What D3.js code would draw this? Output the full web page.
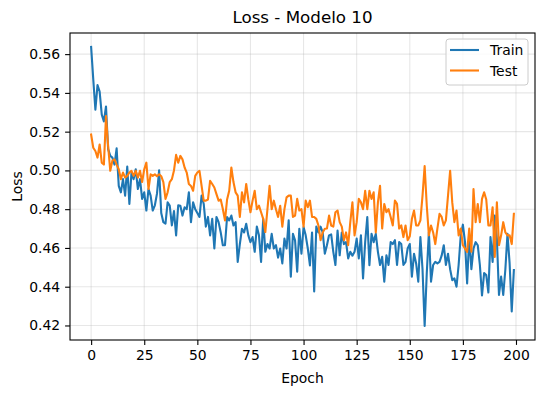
<!DOCTYPE html>
<html>
<head>
<meta charset="utf-8">
<script src="https://cdn.jsdelivr.net/npm/d3@7"></script>
<style>
	body { margin: 0; background: #fff; }
	svg text { font-family: 'DejaVu Sans', sans-serif; fill: #000; }
	.axis path, .axis line { stroke: #000; stroke-width: 1.1; }
	.grid line { stroke: #b0b0b0; stroke-opacity: 0.3; stroke-width: 1.1; }
</style>
</head>
<body>
<svg id="chart" width="545" height="393"></svg>
<script>
var train = [
	0.5637, 0.547, 0.5313, 0.544, 0.5407, 0.5288, 0.5253, 0.533, 0.511, 0.5075,
	0.5066, 0.503, 0.5114, 0.492, 0.4887, 0.4955, 0.487, 0.502, 0.4827, 0.4989,
	0.4955, 0.5006, 0.4904, 0.4955, 0.4853, 0.4887, 0.4793, 0.4904, 0.487, 0.4793,
	0.482, 0.488, 0.500, 0.478, 0.4733, 0.4725, 0.4835, 0.4818, 0.4716, 0.479,
	0.4665, 0.482, 0.4818, 0.4767, 0.481, 0.480, 0.4887, 0.4733, 0.4835, 0.480,
	0.478, 0.476, 0.487, 0.4827, 0.471, 0.476, 0.4665, 0.475, 0.4597, 0.476,
	0.4733, 0.468, 0.4614, 0.4614, 0.476, 0.4742, 0.4767, 0.4716, 0.4733, 0.4528,
	0.462, 0.4699, 0.468, 0.4725, 0.4665, 0.463, 0.4656, 0.458, 0.471, 0.4665,
	0.4528, 0.475, 0.458, 0.462, 0.4597, 0.4673, 0.4597, 0.4614, 0.455, 0.4597,
	0.452, 0.4648, 0.4597, 0.4742, 0.4452, 0.4673, 0.4639, 0.4478, 0.4699, 0.457,
	0.4708, 0.4665, 0.4597, 0.451, 0.468, 0.4375, 0.471, 0.468, 0.471, 0.468,
	0.457, 0.4614, 0.4665, 0.467, 0.458, 0.4512, 0.469, 0.4562, 0.468, 0.462,
	0.463, 0.4546, 0.458, 0.456, 0.458, 0.4648, 0.4546, 0.4665, 0.4443, 0.463,
	0.4759, 0.4511, 0.4673, 0.463, 0.4673, 0.458, 0.4512, 0.4554, 0.4426, 0.4562,
	0.4512, 0.463, 0.462, 0.464, 0.4512, 0.463, 0.462, 0.4512, 0.4528, 0.4597,
	0.462, 0.4452, 0.457, 0.452, 0.4426, 0.4656, 0.449, 0.4197, 0.447, 0.4682,
	0.4426, 0.4512, 0.4528, 0.452, 0.4528, 0.456, 0.4614, 0.4512, 0.457, 0.449,
	0.4434, 0.4443, 0.44, 0.4512, 0.4665, 0.472, 0.463, 0.4417, 0.4665, 0.449,
	0.4597, 0.463, 0.4614, 0.4512, 0.4355, 0.447, 0.446, 0.437, 0.4656, 0.4528,
	0.4767, 0.4648, 0.4358, 0.4452, 0.4358, 0.449, 0.4673, 0.452, 0.4272, 0.4486
];
var test = [
	0.5185, 0.5117, 0.510, 0.5066, 0.5134, 0.504, 0.503, 0.528, 0.5126, 0.4998,
	0.505, 0.5057, 0.503, 0.5006, 0.4955, 0.4989, 0.4963, 0.4972, 0.4989, 0.4998,
	0.4972, 0.4998, 0.4963, 0.4998, 0.494, 0.5006, 0.504, 0.4904, 0.498, 0.4972,
	0.498, 0.497, 0.498, 0.497, 0.494, 0.4853, 0.4887, 0.494, 0.4955, 0.500,
	0.508, 0.504, 0.5075, 0.5057, 0.5015, 0.4989, 0.493, 0.492, 0.4895, 0.4972,
	0.4989, 0.4998, 0.492, 0.4844, 0.4844, 0.485, 0.4946, 0.493, 0.4912, 0.4878,
	0.4844, 0.485, 0.4801, 0.4742, 0.485, 0.4895, 0.5015, 0.494, 0.4887, 0.487,
	0.476, 0.4887, 0.4835, 0.493, 0.485, 0.4784, 0.4844, 0.4895, 0.48, 0.4818,
	0.4784, 0.475, 0.4682, 0.48, 0.4921, 0.48, 0.4844, 0.48, 0.476, 0.4818,
	0.471, 0.48, 0.4861, 0.487, 0.487, 0.476, 0.4767, 0.4853, 0.4793, 0.48,
	0.471, 0.4844, 0.481, 0.4844, 0.476, 0.476, 0.475, 0.4716, 0.464, 0.468,
	0.4699, 0.47, 0.4767, 0.4716, 0.471, 0.4784, 0.4793, 0.4733, 0.471, 0.464,
	0.468, 0.4614, 0.4733, 0.4835, 0.4665, 0.4733, 0.4853, 0.4835, 0.48, 0.4895,
	0.48, 0.4895, 0.4853, 0.4887, 0.468, 0.4835, 0.4921, 0.47, 0.4827, 0.4784,
	0.48, 0.476, 0.4716, 0.4844, 0.4827, 0.47, 0.4716, 0.4656, 0.4716, 0.464,
	0.466, 0.475, 0.4793, 0.4716, 0.4716, 0.4742, 0.487, 0.5023, 0.4818, 0.4665,
	0.4716, 0.468, 0.462, 0.47, 0.4776, 0.476, 0.4716, 0.4742, 0.487, 0.4998,
	0.4835, 0.4733, 0.4793, 0.4665, 0.470, 0.4614, 0.4597, 0.458, 0.47, 0.458,
	0.4904, 0.4733, 0.4827, 0.4733, 0.4853, 0.4887, 0.485, 0.4716, 0.4716, 0.481,
	0.4554, 0.4835, 0.4614, 0.4665, 0.4733, 0.468, 0.4665, 0.4665, 0.462, 0.4776
];
var xTicks = [0, 25, 50, 75, 100, 125, 150, 175, 200];
var yTicks = [0.42, 0.44, 0.46, 0.48, 0.50, 0.52, 0.54, 0.56];
var seriesNames = ['Train', 'Test'];
var seriesColors = ['#1f77b4', '#ff7f0e'];

var svg = d3.select('#chart'),
	margin = { top: 33, right: 10, bottom: 53, left: 70 },
	width = 545 - margin.left - margin.right,
	height = 393 - margin.top - margin.bottom;

var n = train.length;
var pad = (n - 1) * 0.05;
var x = d3.scaleLinear().domain([ -pad, n - 1 + pad ]).range([ 0, width ]);

var all = train.concat(test);
var lo = d3.min(all), hi = d3.max(all);
var yPad = (hi - lo) * 0.05;
var y = d3.scaleLinear().domain([ lo - yPad, hi + yPad ]).range([ height, 0 ]);

var g = svg.append('g').attr('transform', 'translate(' + margin.left + ',' + margin.top + ')');

// grid
g.append('g').attr('class', 'grid')
	.selectAll('line.gx').data(xTicks).enter().append('line')
	.attr('x1', function(d) { return x(d); }).attr('x2', function(d) { return x(d); })
	.attr('y1', 0).attr('y2', height);
g.append('g').attr('class', 'grid')
	.selectAll('line.gy').data(yTicks).enter().append('line')
	.attr('y1', function(d) { return y(d); }).attr('y2', function(d) { return y(d); })
	.attr('x1', 0).attr('x2', width);

// lines
var line = d3.line()
	.x(function(d, i) { return x(i); })
	.y(function(d) { return y(d); });

[train, test].forEach(function(s, k) {
	g.append('path')
		.datum(s)
		.attr('fill', 'none')
		.attr('stroke', seriesColors[k])
		.attr('stroke-width', 2.1)
		.attr('stroke-linejoin', 'round')
		.attr('stroke-linecap', 'square')
		.attr('d', line);
});

// axes
var xAxis = g.append('g').attr('class', 'axis').attr('transform', 'translate(0,' + height + ')')
	.call(d3.axisBottom(x).tickValues(xTicks).tickSize(4.9).tickPadding(4.9).tickSizeOuter(0)
		.tickFormat(d3.format('d')));
var yAxis = g.append('g').attr('class', 'axis')
	.call(d3.axisLeft(y).tickValues(yTicks).tickSize(4.9).tickPadding(4.9).tickSizeOuter(0)
		.tickFormat(d3.format('.2f')));
g.selectAll('.axis text').style('font-size', '13.9px').style('font-family', 'DejaVu Sans');
g.selectAll('.axis .domain').remove();

// frame
g.append('rect').attr('width', width).attr('height', height)
	.attr('fill', 'none').attr('stroke', '#000').attr('stroke-width', 1.1);

// labels
svg.append('text').attr('x', margin.left + width / 2).attr('y', 23)
	.attr('text-anchor', 'middle').style('font-size', '16.7px').text('Loss - Modelo 10');
svg.append('text').attr('x', margin.left + width / 2).attr('y', 383)
	.attr('text-anchor', 'middle').style('font-size', '13.9px').text('Epoch');
svg.append('text').attr('transform', 'translate(22,' + (margin.top + height / 2) + ') rotate(-90)')
	.attr('text-anchor', 'middle').style('font-size', '13.9px').text('Loss');

// legend
var lg = g.append('g').attr('transform', 'translate(' + (width - 89) + ',6)');
lg.append('rect').attr('width', 82).attr('height', 46).attr('rx', 3)
	.attr('fill', '#fff').attr('fill-opacity', 0.8)
	.attr('stroke', '#ccc').attr('stroke-width', 1);
seriesNames.forEach(function(name, k) {
	var yy = 11 + k * 20.5;
	lg.append('line').attr('x1', 4).attr('x2', 33).attr('y1', yy).attr('y2', yy)
		.attr('stroke', seriesColors[k]).attr('stroke-width', 2.1);
	lg.append('text').attr('x', 44).attr('y', yy).attr('dy', '0.36em')
		.style('font-size', '13.9px').text(name);
});
</script>
</body>
</html>
